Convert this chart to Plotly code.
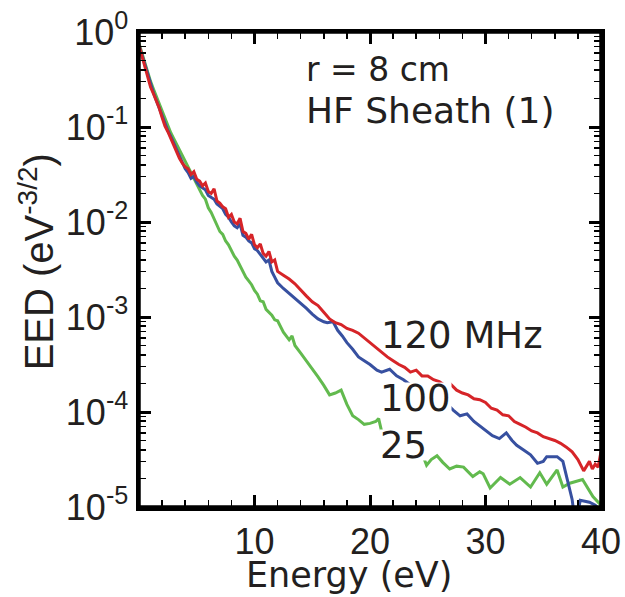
import plotly.graph_objects as go

# ---- data (log10 of EED) ----
e_120 = [0, 0.25, 0.5, 0.75, 1.0, 1.25, 1.5, 1.75, 2.0, 2.25, 2.5, 2.75, 3.0, 3.25, 3.5, 3.75,
         4.0, 4.25, 4.5, 4.75, 5.0, 5.25, 5.5, 5.75, 6.0, 6.25, 6.5, 6.75, 7.0, 7.25, 7.5, 7.75,
         8.0, 8.25, 8.5, 8.75, 9.0, 9.25, 9.5, 9.75, 10.0, 10.25, 10.5, 10.75, 11.0, 11.25, 11.5, 11.75,
         12.0, 12.5, 13.0, 13.5, 14.0, 14.5, 15.0, 15.5, 16.0, 16.5, 17.0, 17.5, 18.0, 18.5, 19.0, 19.5,
         20.0, 20.5, 21.0, 21.5, 22.0, 22.5, 23.0, 23.5, 24.0, 24.5, 25.0, 25.5, 26.0, 26.5, 27.0, 27.5,
         28.0, 28.5, 29.0, 29.5, 30.0, 30.5, 31.0, 31.5, 32.0, 32.5, 33.0, 33.5, 34.0, 34.5, 35.0, 35.5,
         36.0, 36.5, 37.0, 37.5, 38.0, 38.5, 39.0, 39.25, 39.5, 39.75, 40.0]
log_120 = [-0.14, -0.25, -0.38, -0.48, -0.58, -0.65, -0.72, -0.80, -0.90, -0.99, -1.05, -1.12, -1.18, -1.26, -1.33, -1.38,
           -1.42, -1.44, -1.50, -1.47, -1.55, -1.57, -1.62, -1.59, -1.68, -1.70, -1.65, -1.78, -1.80, -1.84, -1.86, -1.95,
           -1.92, -2.00, -2.02, -1.96, -2.10, -2.12, -2.18, -2.13, -2.24, -2.27, -2.23, -2.33, -2.36, -2.31, -2.42, -2.40,
           -2.52, -2.56, -2.60, -2.65, -2.72, -2.78, -2.84, -2.88, -2.95, -3.02, -3.06, -3.08, -3.12, -3.14, -3.17, -3.22,
           -3.28, -3.33, -3.38, -3.42, -3.46, -3.50, -3.53, -3.58, -3.56, -3.62, -3.62, -3.66, -3.68, -3.72, -3.71, -3.77,
           -3.80, -3.82, -3.86, -3.87, -3.90, -3.96, -3.98, -4.03, -4.04, -4.10, -4.13, -4.16, -4.20, -4.22, -4.26, -4.28,
           -4.30, -4.33, -4.37, -4.42, -4.50, -4.62, -4.52, -4.60, -4.55, -4.58, -4.42]

e_100 = [0, 0.25, 0.5, 0.75, 1.0, 1.25, 1.5, 1.75, 2.0, 2.25, 2.5, 2.75, 3.0, 3.25, 3.5, 3.75,
         4.0, 4.25, 4.5, 4.75, 5.0, 5.25, 5.5, 5.75, 6.0, 6.25, 6.5, 6.75, 7.0, 7.25, 7.5, 7.75,
         8.0, 8.25, 8.5, 8.75, 9.0, 9.25, 9.5, 9.75, 10.0, 10.25, 10.5, 10.75, 11.0, 11.25, 11.5, 11.75,
         12.0, 12.5, 13.0, 13.5, 14.0, 14.5, 15.0, 15.5, 16.0, 16.3, 16.8, 17.2, 17.6, 18.0, 18.5, 19.0,
         19.5, 20.0, 20.6, 21.0, 21.7, 22.3, 22.9, 23.5, 24.0, 24.5, 25.0, 25.5, 26.0, 26.7, 27.2, 27.8,
         28.4, 29.0, 29.5, 30.0, 30.6, 31.2, 31.8, 32.3, 32.7, 33.3, 33.9, 34.5, 35.0, 35.3, 36.2, 36.7,
         37.1, 37.5, 37.8, 38.2, 39.0, 39.5, 40.0]
log_100 = [-0.14, -0.24, -0.36, -0.46, -0.56, -0.64, -0.72, -0.80, -0.89, -0.97, -1.04, -1.10, -1.17, -1.24, -1.31, -1.37,
           -1.44, -1.48, -1.54, -1.52, -1.58, -1.62, -1.64, -1.66, -1.72, -1.74, -1.76, -1.81, -1.84, -1.86, -1.92, -1.95,
           -2.00, -2.04, -2.06, -2.02, -2.14, -2.16, -2.20, -2.22, -2.28, -2.30, -2.34, -2.38, -2.42, -2.40, -2.52, -2.58,
           -2.64, -2.70, -2.75, -2.80, -2.86, -2.91, -2.97, -3.02, -3.05, -3.06, -3.05, -3.14, -3.20, -3.27, -3.34, -3.42,
           -3.46, -3.50, -3.56, -3.58, -3.55, -3.62, -3.66, -3.72, -3.76, -3.80, -3.84, -3.87, -3.90, -3.92, -3.98, -4.04,
           -4.02, -4.10, -4.15, -4.20, -4.25, -4.28, -4.22, -4.30, -4.35, -4.40, -4.45, -4.54, -4.52, -4.47, -4.47, -4.52,
           -4.72, -4.92, -5.20, -4.93, -4.95, -4.98, -5.05]

e_25 = [0, 0.25, 0.5, 0.75, 1.0, 1.25, 1.5, 1.75, 2.0, 2.25, 2.5, 2.75, 3.0, 3.25, 3.5, 3.75,
        4.0, 4.25, 4.5, 4.75, 5.0, 5.25, 5.5, 5.75, 6.0, 6.25, 6.5, 6.75, 7.0, 7.25, 7.5, 7.75,
        8.0, 8.25, 8.5, 8.75, 9.0, 9.25, 9.5, 9.75, 10.0, 10.25, 10.5, 10.75, 11.0, 11.25, 11.5, 11.75,
        12.0, 12.5, 13.0, 13.25, 13.5, 14.0, 14.5, 15.0, 15.5, 16.0, 16.5, 17.0, 17.5, 18.0, 18.5, 19.0,
        19.5, 20.0, 20.5, 20.75, 21.0, 21.5, 22.0, 22.5, 23.0, 23.5, 24.0, 24.3, 24.9, 25.3, 25.8, 26.3,
        26.9, 27.5, 28.1, 28.9, 29.5, 29.8, 30.4, 31.3, 32.1, 33.0, 33.9, 34.7, 35.3, 36.2, 36.7, 37.3,
        38.4, 39.3, 40.0]
log_25 = [-0.12, -0.22, -0.33, -0.43, -0.52, -0.60, -0.68, -0.76, -0.84, -0.92, -1.00, -1.06, -1.12, -1.18, -1.24, -1.30,
          -1.36, -1.42, -1.48, -1.53, -1.60, -1.66, -1.72, -1.76, -1.85, -1.90, -1.97, -2.03, -2.10, -2.13, -2.20, -2.24,
          -2.30, -2.36, -2.40, -2.46, -2.52, -2.58, -2.62, -2.66, -2.72, -2.76, -2.83, -2.84, -2.92, -2.95, -2.98, -3.03,
          -3.04, -3.16, -3.24, -3.20, -3.30, -3.38, -3.46, -3.55, -3.63, -3.72, -3.82, -3.80, -3.77, -3.92, -4.04, -4.08,
          -4.13, -4.12, -4.10, -4.07, -4.20, -4.24, -4.27, -4.30, -4.33, -4.36, -4.37, -4.37, -4.56, -4.50, -4.46, -4.53,
          -4.60, -4.57, -4.58, -4.68, -4.63, -4.65, -4.80, -4.69, -4.76, -4.69, -4.79, -4.64, -4.76, -4.61, -4.79, -4.75,
          -4.71, -4.89, -4.98]

y_tickvals = [1e-5, 1e-4, 1e-3, 1e-2, 1e-1, 1e0]
y_ticktext = ["10<sup>-5</sup>", "10<sup>-4</sup>", "10<sup>-3</sup>", "10<sup>-2</sup>", "10<sup>-1</sup>", "10<sup>0</sup>"]
x_tickvals = [10, 20, 30, 40]
x_ticktext = ["10", "20", "30", "40"]

series = [
    ("25 MHz", e_25, log_25, "rgb(98,186,78)"),
    ("100 MHz", e_100, log_100, "rgb(55,80,160)"),
    ("120 MHz", e_120, log_120, "rgb(214,36,40)"),
]

FONT = "Liberation Sans, Arial, sans-serif"
WIDE = "DejaVu Sans, sans-serif"
TXT = "#231f20"

fig = go.Figure()
for name, ex, lg, col in series:
    fig.add_trace(go.Scatter(x=ex, y=[10 ** v for v in lg], mode="lines", name=name,
                             line=dict(color=col, width=3), showlegend=False, cliponaxis=True,
                             hoverinfo="skip"))

fig.update_layout(
    width=625, height=597,
    margin=dict(l=139, r=24, t=32, b=90, autoexpand=False),
    paper_bgcolor="white", plot_bgcolor="rgba(0,0,0,0)",
    font=dict(family=FONT, color=TXT),
    hovermode=False,
)
axis_common = dict(ticks="inside", ticklen=12, tickwidth=3, tickcolor="black",
                   showline=True, linecolor="black", linewidth=3.5, mirror="allticks",
                   showgrid=False, zeroline=False, automargin=False, layer="above traces",
                   tickfont=dict(size=36, family=FONT, color=TXT))
fig.update_xaxes(range=[0, 40], tickvals=x_tickvals, ticktext=x_ticktext,
                 minor=dict(ticks="inside", ticklen=7, tickwidth=1.5, tickcolor="black",
                            dtick=2, tick0=0, showgrid=False), **axis_common)
fig.update_yaxes(type="log", range=[-5, 0], tickvals=y_tickvals, ticktext=y_ticktext,
                 minor=dict(ticks="inside", ticklen=7, tickwidth=1.5, tickcolor="black",
                            dtick="D1", showgrid=False), **axis_common)

# plot frame (a closed black box, as in the original)
fig.add_shape(type="rect", xref="paper", yref="paper", x0=0, y0=0, x1=1, y1=1,
              line=dict(color="black", width=3.5), fillcolor="rgba(0,0,0,0)", layer="above")

# axis titles
fig.add_annotation(text="Energy (eV)", xref="paper", yref="paper", x=0.455, y=-0.143,
                   showarrow=False, font=dict(size=35, family=WIDE, color=TXT),
                   xanchor="center", yanchor="middle")
fig.add_annotation(text="EED (eV<sup>-3/2</sup>)", xref="paper", yref="paper", x=-0.222, y=0.516,
                   showarrow=False, textangle=-90, font=dict(size=40, family=FONT, color=TXT),
                   xanchor="center", yanchor="middle")
# in-plot text
fig.add_annotation(text="r = 8 cm", xref="paper", yref="paper", x=0.357, y=0.922,
                   showarrow=False, font=dict(size=33, family=WIDE, color=TXT),
                   xanchor="left", yanchor="middle")
fig.add_annotation(text="HF Sheath (1)", xref="paper", yref="paper", x=0.357, y=0.835,
                   showarrow=False, font=dict(size=36, family=WIDE, color=TXT),
                   xanchor="left", yanchor="middle")
# series labels (white boxes hide lines beneath, as in the original)
fig.add_annotation(text="120 MHz", xref="paper", yref="paper", x=0.519, y=0.362,
                   showarrow=False, font=dict(size=37, family=WIDE, color=TXT),
                   xanchor="left", yanchor="middle")
for txt, yy in [("100", 0.229), ("25", 0.13)]:
    fig.add_annotation(text=txt, xref="paper", yref="paper", x=0.519, y=yy,
                       showarrow=False, font=dict(size=37, family=WIDE, color=TXT),
                       xanchor="left", yanchor="middle", bgcolor="white", borderpad=0,
                       height=30)

fig.write_html("out.html", config={"displayModeBar": False, "staticPlot": True},
               post_script="document.body.style.margin='0px';")
